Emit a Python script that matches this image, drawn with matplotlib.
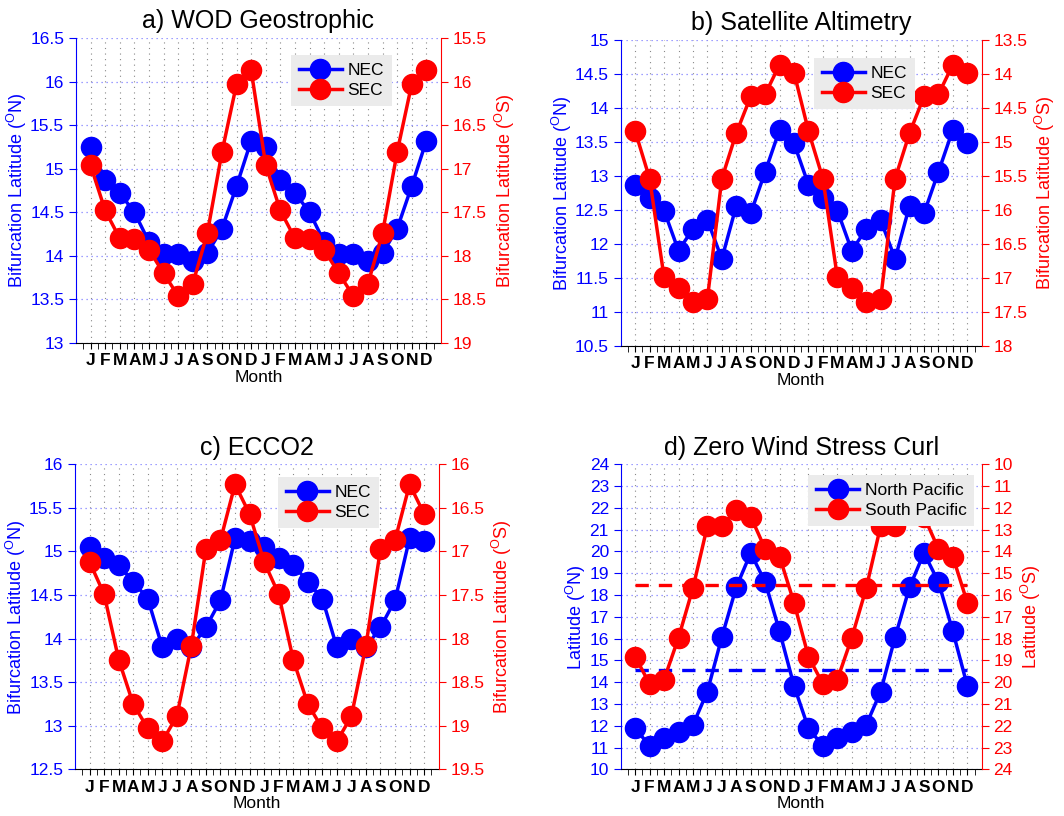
import matplotlib
matplotlib.use("Agg")
import matplotlib.pyplot as plt
import numpy as np

plt.rcParams['font.family'] = ['Liberation Sans', 'DejaVu Sans']
plt.rcParams['mathtext.fontset'] = 'custom'
plt.rcParams['mathtext.rm'] = 'Liberation Sans'
plt.rcParams['mathtext.it'] = 'Liberation Sans'

# ---------------- data ----------------
month_labels = ['J', 'F', 'M', 'A', 'M', 'J', 'J', 'A', 'S', 'O', 'N', 'D']

# a) WOD Geostrophic
nec_a = [15.25, 14.87, 14.72, 14.50, 14.16, 14.02, 14.02, 13.94, 14.03, 14.31, 14.80, 15.32]
sec_a = [16.96, 17.48, 17.80, 17.81, 17.93, 18.20, 18.46, 18.32, 17.74, 16.81, 16.03, 15.87]

# b) Satellite Altimetry
nec_b = [12.87, 12.67, 12.49, 11.90, 12.22, 12.35, 11.78, 12.56, 12.45, 13.06, 13.68, 13.48]
sec_b = [14.84, 15.54, 16.99, 17.15, 17.35, 17.31, 15.54, 14.87, 14.33, 14.30, 13.86, 13.98]

# c) ECCO2
nec_c = [15.05, 14.93, 14.85, 14.65, 14.46, 13.90, 14.00, 13.90, 14.13, 14.44, 15.15, 15.12]
sec_c = [17.12, 17.49, 18.24, 18.75, 19.03, 19.18, 18.89, 18.08, 16.97, 16.87, 16.23, 16.57]

# d) Zero Wind Stress Curl
np_d = [11.88, 11.08, 11.42, 11.73, 12.04, 13.57, 16.07, 18.36, 19.93, 18.60, 16.33, 13.83]
sp_d = [18.83, 20.08, 19.88, 17.96, 15.68, 12.83, 12.83, 12.10, 12.40, 13.88, 14.24, 16.35]
np_mean = 14.57
sp_mean = 15.55

SUP = '$^{\\mathrm{O}}$'
panels = [
    dict(title='a) WOD Geostrophic', n=nec_a, s=sec_a, ylim=(13, 16.5), yt=np.arange(13, 16.51, 0.5),
         ylim2=(19, 15.5), yt2=np.arange(15.5, 19.01, 0.5), labels=('NEC', 'SEC'),
         ylab='Bifurcation Latitude (' + SUP + 'N)', ylab2='Bifurcation Latitude (' + SUP + 'S)',
         rect=[0.0714, 0.5797, 0.343, 0.3738], leg=(0.589, 0.944)),
    dict(title='b) Satellite Altimetry', n=nec_b, s=sec_b, ylim=(10.5, 15), yt=np.arange(10.5, 15.01, 0.5),
         ylim2=(18, 13.5), yt2=np.arange(13.5, 18.01, 0.5), labels=('NEC', 'SEC'),
         ylab='Bifurcation Latitude (' + SUP + 'N)', ylab2='Bifurcation Latitude (' + SUP + 'S)',
         rect=[0.5834, 0.5763, 0.3393, 0.3746], leg=(0.535, 0.941)),
    dict(title='c) ECCO2', n=nec_c, s=sec_c, ylim=(12.5, 16), yt=np.arange(12.5, 16.01, 0.5),
         ylim2=(19.5, 16), yt2=np.arange(16, 19.51, 0.5), labels=('NEC', 'SEC'),
         ylab='Bifurcation Latitude (' + SUP + 'N)', ylab2='Bifurcation Latitude (' + SUP + 'S)',
         rect=[0.0705, 0.0572, 0.3418, 0.3738], leg=(0.558, 0.959)),
    dict(title='d) Zero Wind Stress Curl', n=np_d, s=sp_d, ylim=(10, 24), yt=np.arange(10, 24.01, 1),
         ylim2=(24, 10), yt2=np.arange(10, 24.01, 1), labels=('North Pacific', 'South Pacific'),
         ylab='Latitude (' + SUP + 'N)', ylab2='Latitude (' + SUP + 'S)',
         rect=[0.5834, 0.0572, 0.3393, 0.3738], leg=(0.519, 0.965),
         means=(np_mean, sp_mean)),
]

BLUE = '#0000ff'
RED = '#ff0000'
FS = 12.5

fig = plt.figure(figsize=(10.64, 8.16), dpi=100)

for p in panels:
    ax = fig.add_axes(p['rect'])
    x = np.arange(1, 25)
    n = list(p['n']) * 2
    s = list(p['s']) * 2

    ax.set_xlim(0, 25)
    ax.set_ylim(*p['ylim'])
    ax.set_yticks(p['yt'])
    ax.set_yticklabels(['%g' % v for v in p['yt']])
    ax.set_xticks(x)
    ax.set_xticks(np.arange(0.5, 25, 1), minor=True)
    ax.set_xticklabels(month_labels * 2, fontsize=FS, fontweight='bold')

    # grids
    for xv in x:
        ax.axvline(xv, color='#888888', lw=0.8, ls=(0, (1, 4)), zorder=0)
    for yv in p['yt']:
        ax.axhline(yv, color='#8080ff', lw=0.9, ls=(0, (1, 3)), zorder=0)

    if 'means' in p:
        ax.plot([1, 24], [p['means'][0]] * 2, color=BLUE, lw=2.4, ls=(0, (4, 3)), zorder=1)
    hn, = ax.plot(x, n, '-o', color=BLUE, lw=2.5, ms=14.5, zorder=3, label=p['labels'][0])

    ax.spines['top'].set_visible(False)
    ax.spines['right'].set_visible(False)
    ax.spines['left'].set_color(BLUE)
    ax.spines['bottom'].set_color('black')
    ax.tick_params(axis='y', colors=BLUE, labelsize=FS, direction='out', length=5)
    ax.tick_params(axis='x', which='both', colors='black', labelsize=FS, direction='out', length=4)
    ax.set_ylabel(p['ylab'], color=BLUE, fontsize=13, labelpad=1)
    ax.set_xlabel('Month', fontsize=FS, labelpad=1)
    ax.set_title(p['title'], fontsize=18, pad=7)

    ax2 = ax.twinx()
    ax2.set_ylim(*p['ylim2'])
    ax2.set_yticks(p['yt2'])
    ax2.set_yticklabels(['%g' % v for v in p['yt2']])
    if 'means' in p:
        ax2.plot([1, 24], [p['means'][1]] * 2, color=RED, lw=2.4, ls=(0, (4, 3)), zorder=1)
    hs, = ax2.plot(x, s, '-o', color=RED, lw=2.5, ms=14.5, zorder=3, label=p['labels'][1])
    for sp in ['top', 'left', 'bottom']:
        ax2.spines[sp].set_visible(False)
    ax2.spines['right'].set_color(RED)
    ax2.tick_params(axis='y', colors=RED, labelsize=FS, direction='out', length=5)
    ax2.set_ylabel(p['ylab2'], color=RED, fontsize=13, rotation=90, labelpad=4)

    leg = ax2.legend([hn, hs], p['labels'], loc='upper left', bbox_to_anchor=p['leg'],
                     fontsize=FS, frameon=True, fancybox=False, framealpha=1,
                     facecolor='#ebebeb', edgecolor='none', handlelength=2.5,
                     handletextpad=0.3, labelspacing=0.3, borderpad=0.45, borderaxespad=0)
    leg.set_zorder(10)

fig.savefig('out.png', dpi=100)
